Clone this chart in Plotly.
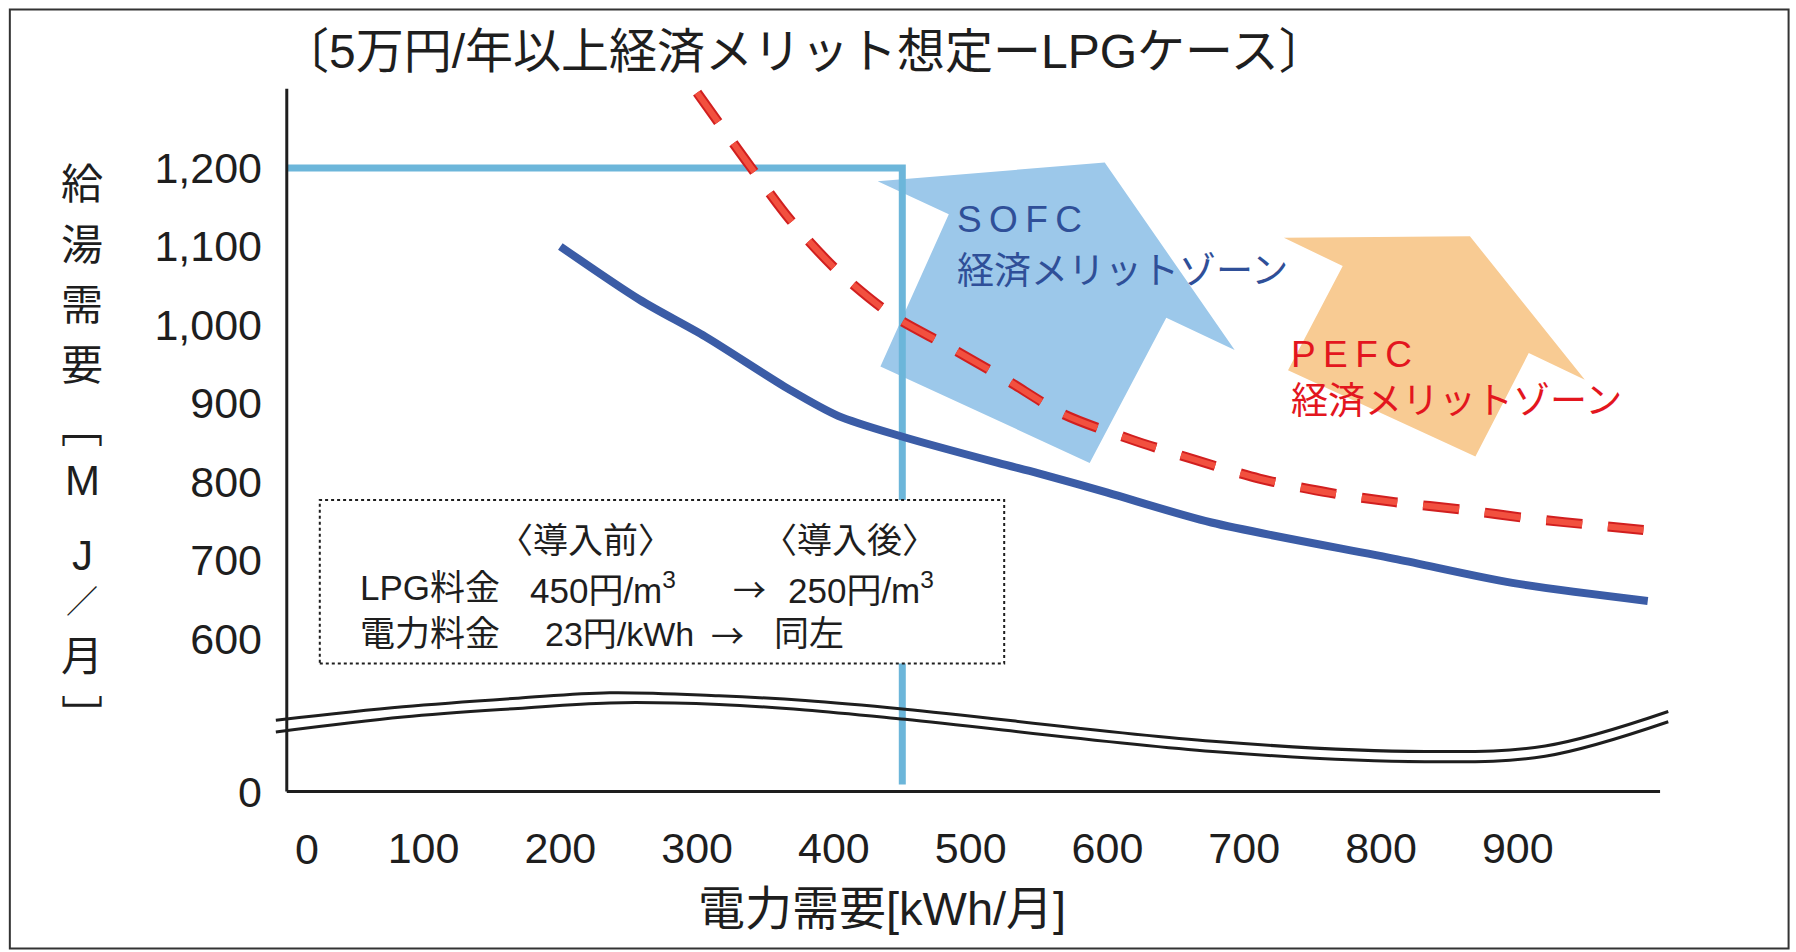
import plotly.graph_objects as go

# ---------------- data ----------------
# SOFC economic-merit boundary (solid blue)
SOFC_KWH = [200, 258, 306, 367, 403, 449, 520, 549, 600, 676, 812, 896, 995]
SOFC_MJ = [1100, 1032, 985, 918, 884, 858, 824, 811, 786, 748, 701, 671, 648]

# PEFC economic-merit boundary (dashed red)
PEFC_KWH = [300, 338, 368, 402, 442, 483, 526, 568, 617, 664, 711, 762, 810, 861, 909, 960, 1000]
PEFC_MJ = [1296, 1204, 1134, 1070, 1013, 973, 930, 886, 854, 828, 804, 786, 774, 764, 753, 744, 737]

# reference household: 450 kWh/month electricity, 1,200 MJ/month hot water
REF_KWH = [0, 450, 450]
REF_MJ = [1200, 1200, 414]

# axis-break symbol (two parallel wavy lines)
BREAK_KWH = [-8, 85, 169, 236, 316, 379, 452, 677, 832, 920, 1010]
BREAK_UPPER = [496, 513, 524, 531, 527, 521, 510, 469, 456, 463, 507]
BREAK_LOWER = [481, 500, 511, 518, 516, 509, 497, 456, 443, 450, 494]

# merit-zone arrows (polygon outlines)
SOFC_ZONE_X = [432, 598, 693, 643, 587, 434, 484, 432]
SOFC_ZONE_Y = [1183, 1207, 968, 1009, 824, 947, 1141, 1183]
PEFC_ZONE_X = [729, 865, 949, 908, 869, 732, 772, 729]
PEFC_ZONE_Y = [1111, 1113, 930, 964, 832, 942, 1075, 1111]

# axis ticks (the y axis is broken: 0 sits at the bottom of the drawn range)
Y_ZERO_AT = 405
Y_TICKS = [600, 700, 800, 900, 1000, 1100, 1200]
Y_TICK_TEXT = ["600", "700", "800", "900", "1,000", "1,100", "1,200"]
X_TICKS = [100, 200, 300, 400, 500, 600, 700, 800, 900]
X_TICK_TEXT = [str(v) for v in X_TICKS]
X_MAX = 1004

TITLE = "〔5万円/年以上経済メリット想定ーLPGケース〕"
X_TITLE = "電力需要[kWh/月]"
Y_TITLE_CHARS = ["給", "湯", "需", "要", "﹇", "M", "J", "／", "月", "﹈"]

# ---------------- layout geometry ----------------
W, H = 1796, 952
ML, MR, MT, MB = 269.2, 124.6, 88.4, 154.6
PW, PH = W - ML - MR, H - MT - MB

FONT = "Liberation Sans, Arial, Noto Sans CJK JP, sans-serif"
CJK = "Noto Sans CJK JP, sans-serif"
INK = "#1e1e1e"


def px(xp, yp):
    """pixel position on the page -> paper coordinates"""
    return (xp - ML) / PW, 1 - (yp - MT) / PH


fig = go.Figure()

# merit-zone arrows
fig.add_trace(go.Scatter(x=SOFC_ZONE_X, y=SOFC_ZONE_Y, mode="lines", fill="toself",
                         fillcolor="#9CC8EA", line=dict(width=0), hoverinfo="skip"))
fig.add_trace(go.Scatter(x=PEFC_ZONE_X, y=PEFC_ZONE_Y, mode="lines", fill="toself",
                         fillcolor="#F8CB93", line=dict(width=0), hoverinfo="skip"))

# reference household lines
fig.add_trace(go.Scatter(x=REF_KWH, y=REF_MJ, mode="lines",
                         line=dict(color="#6CB6DA", width=7), hoverinfo="skip"))

# axis-break symbol
for ys in (BREAK_UPPER, BREAK_LOWER):
    fig.add_trace(go.Scatter(x=BREAK_KWH, y=ys, mode="lines",
                             line=dict(color=INK, width=3, shape="spline", smoothing=1.0),
                             hoverinfo="skip"))

# SOFC boundary
fig.add_trace(go.Scatter(x=SOFC_KWH, y=SOFC_MJ, mode="lines",
                         line=dict(color="#3B5CA6", width=8, shape="spline", smoothing=0.8),
                         hoverinfo="skip"))

# PEFC boundary: dark rim under a brighter dash
fig.add_trace(go.Scatter(x=PEFC_KWH, y=PEFC_MJ, mode="lines",
                         line=dict(color="#D11F1F", width=10, dash="36px,26px",
                                   shape="spline", smoothing=0.8),
                         hoverinfo="skip"))
fig.add_trace(go.Scatter(x=PEFC_KWH, y=PEFC_MJ, mode="lines",
                         line=dict(color="#F2503F", width=6, dash="36px,26px",
                                   shape="spline", smoothing=0.8),
                         hoverinfo="skip"))

shapes = [
    # axis lines
    dict(type="line", xref="x", yref="y", x0=0, x1=0, y0=Y_ZERO_AT, y1=1301,
         line=dict(color=INK, width=3), layer="above"),
    dict(type="line", xref="x", yref="y", x0=0, x1=X_MAX, y0=Y_ZERO_AT, y1=Y_ZERO_AT,
         line=dict(color=INK, width=3), layer="above"),
]
# dotted note box (white fill hides the reference line behind it)
bx0, by0 = px(320, 500.5)
bx1, by1 = px(1004.5, 664)
shapes.append(dict(type="rect", xref="paper", yref="paper", x0=bx0, x1=bx1, y0=by1, y1=by0,
                   fillcolor="white", line=dict(color=INK, width=2, dash="dot"), layer="above"))
# page frame
fx0, fy0 = px(10, 10)
fx1, fy1 = px(1789, 949)
shapes.append(dict(type="rect", xref="paper", yref="paper", x0=fx0, x1=fx1, y0=fy1, y1=fy0,
                   line=dict(color="#333333", width=2), layer="above"))

annotations = []


def text(s, xp, yp, size, color=INK, xanchor="left", family=FONT):
    x, y = px(xp, yp)
    annotations.append(dict(text=s, x=x, y=y, xref="paper", yref="paper",
                            xanchor=xanchor, yanchor="middle", showarrow=False,
                            font=dict(family=family, size=size, color=color)))


# title
text(TITLE, 279, 52, 48)
# axis titles
text(X_TITLE, 882, 909, 47, xanchor="center")
Y_TITLE_POS = [185, 246, 306, 366, 428, 481, 556, 602, 657, 718]
for ch, yp in zip(Y_TITLE_CHARS, Y_TITLE_POS):
    text(ch, 82.5, yp, 32 if ch == "／" else 42, xanchor="center")
# x tick "0" sits just right of the vertical axis
text("0", 307, 849, 43, xanchor="center")

# note box contents
text("〈導入前〉", 586, 541, 35, xanchor="center")
text("〈導入後〉", 850, 541, 35, xanchor="center")
text("LPG料金", 358, 588, 35)
text("450円/m<sup>3</sup>", 528, 588, 35)
text("→", 750, 588, 33, xanchor="center", family=CJK)
text("250円/m<sup>3</sup>", 786, 588, 35)
text("電力料金", 358, 634, 35)
text("23円/kWh", 543, 634, 34)
text("→", 728, 634, 33, xanchor="center", family=CJK)
text("同左", 772, 634, 35)

# zone labels
SP = "\u2009"
text(SP.join("SOFC"), 955, 220, 37, color="#2F4F98")
text("経済メリットゾーン", 955, 272, 37, color="#2F4F98")
text(SP.join("PEFC"), 1289, 355, 37, color="#E3161E")
text("経済メリットゾーン", 1289, 402, 37, color="#E3161E")

fig.update_layout(
    width=W, height=H,
    margin=dict(l=ML, r=MR, t=MT, b=MB, pad=0),
    paper_bgcolor="white", plot_bgcolor="white",
    showlegend=False,
    shapes=shapes, annotations=annotations,
    xaxis=dict(range=[-13, 1012], tickvals=X_TICKS, ticktext=X_TICK_TEXT,
               showgrid=False, zeroline=False, showline=False, ticks="",
               ticklabelstandoff=22,
               tickfont=dict(family=FONT, size=43, color=INK), fixedrange=True),
    yaxis=dict(range=[398, 1302], tickvals=[Y_ZERO_AT] + Y_TICKS, ticktext=["0"] + Y_TICK_TEXT,
               showgrid=False, zeroline=False, showline=False, ticks="",
               ticklabelstandoff=6,
               tickfont=dict(family=FONT, size=43, color=INK), fixedrange=True),
)

fig.write_html("out.html", config={"displayModeBar": False})
